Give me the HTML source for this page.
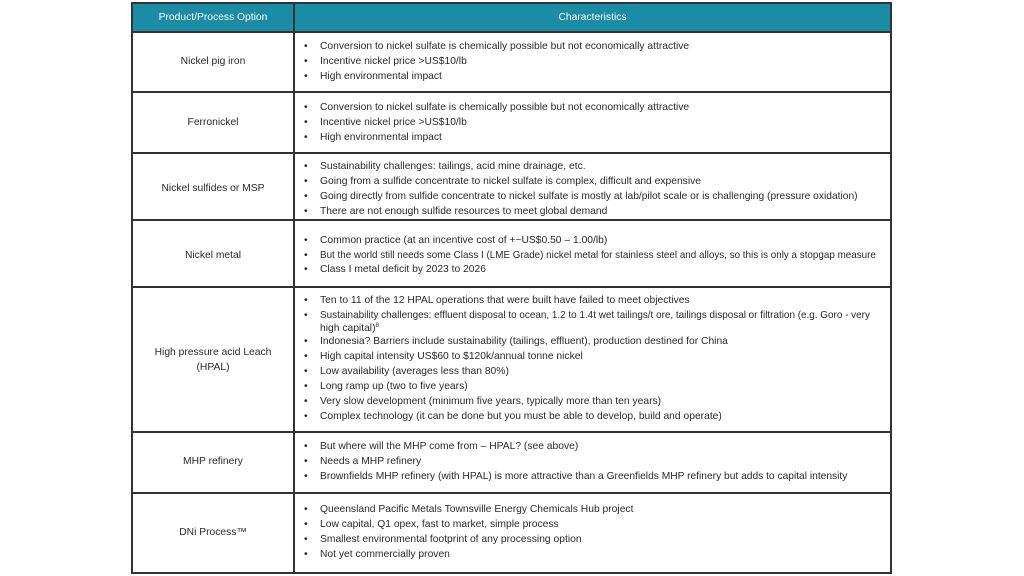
<!DOCTYPE html>
<html>
<head>
<meta charset="utf-8">
<style>
html,body{margin:0;padding:0;background:#fff;}
body{width:1024px;height:576px;position:relative;overflow:hidden;font-family:"Liberation Sans",Arial,sans-serif;font-size:10.3px;color:#2a2a2a;}
.h{position:absolute;height:2px;background:#333;left:131px;width:761px;}
.v{position:absolute;width:2px;background:#333;top:2px;height:572px;}
.t{position:absolute;line-height:15px;white-space:nowrap;}
.c{position:absolute;left:132px;width:162px;text-align:center;line-height:15px;white-space:nowrap;}
.b{position:absolute;left:304px;line-height:15px;white-space:nowrap;}
.b span{display:inline-block;width:16px;}
.s{display:inline-block;transform-origin:0 50%;font-style:normal;}
sup{font-size:6px;vertical-align:top;position:relative;top:-2px;}
</style>
</head>
<body>
<div style="position:absolute;left:132px;top:3px;width:759px;height:29px;background:#1b8ca6;"></div>

<div class="h" style="top:2px"></div>
<div class="h" style="top:31px"></div>
<div class="h" style="top:91px"></div>
<div class="h" style="top:152px"></div>
<div class="h" style="top:219px"></div>
<div class="h" style="top:286px"></div>
<div class="h" style="top:431px"></div>
<div class="h" style="top:492px"></div>
<div class="h" style="top:572px"></div>
<div class="v" style="left:131px"></div>
<div class="v" style="left:293px"></div>
<div class="v" style="left:890px"></div>

<div class="c" style="top:9.5px;color:#fff;">Product/Process Option</div>
<div class="t" style="top:9.5px;left:294px;width:597px;text-align:center;color:#fff;">Characteristics</div>

<div class="c" style="top:53.5px">Nickel pig iron</div>
<div class="b" style="top:38.5px"><span>•</span>Conversion to nickel sulfate is chemically possible but not economically attractive</div>
<div class="b" style="top:53.5px"><span>•</span>Incentive nickel price &gt;US$10/lb</div>
<div class="b" style="top:68.5px"><span>•</span>High environmental impact</div>

<div class="c" style="top:114.5px">Ferronickel</div>
<div class="b" style="top:99.5px"><span>•</span>Conversion to nickel sulfate is chemically possible but not economically attractive</div>
<div class="b" style="top:114.5px"><span>•</span>Incentive nickel price &gt;US$10/lb</div>
<div class="b" style="top:129.5px"><span>•</span>High environmental impact</div>

<div class="c" style="top:180.5px">Nickel sulfides or MSP</div>
<div class="b" style="top:158.8px"><span>•</span>Sustainability challenges: tailings, acid mine drainage, etc.</div>
<div class="b" style="top:173.8px"><span>•</span>Going from a sulfide concentrate to nickel sulfate is complex, difficult and expensive</div>
<div class="b" style="top:188.8px"><span>•</span><i class="s" style="transform:scaleX(0.995)">Going directly from sulfide concentrate to nickel sulfate is mostly at lab/pilot scale or is challenging (pressure oxidation)</i></div>
<div class="b" style="top:203.5px"><span>•</span>There are not enough sulfide resources to meet global demand</div>

<div class="c" style="top:247.5px">Nickel metal</div>
<div class="b" style="top:232.5px"><span>•</span>Common practice (at an incentive cost of +~US$0.50 – 1.00/lb)</div>
<div class="b" style="top:247.5px"><span>•</span><i class="s" style="transform:scaleX(0.957)">But the world still needs some Class I (LME Grade) nickel metal for stainless steel and alloys, so this is only a stopgap measure</i></div>
<div class="b" style="top:262px"><span>•</span>Class I metal deficit by 2023 to 2026</div>

<div class="c" style="top:345px">High pressure acid Leach</div>
<div class="c" style="top:359.5px">(HPAL)</div>
<div class="b" style="top:292.5px"><span>•</span>Ten to 11 of the 12 HPAL operations that were built have failed to meet objectives</div>
<div class="b" style="top:307.5px"><span>•</span><i class="s" style="transform:scaleX(0.963)">Sustainability challenges: effluent disposal to ocean, 1.2 to 1.4t wet tailings/t ore, tailings disposal or filtration (e.g. Goro - very</i></div>
<div class="t" style="top:320.5px;left:320px">high capital)<sup>8</sup></div>
<div class="b" style="top:333.5px"><span>•</span>Indonesia? Barriers include sustainability (tailings, effluent), production destined for China</div>
<div class="b" style="top:348.5px"><span>•</span>High capital intensity US$60 to $120k/annual tonne nickel</div>
<div class="b" style="top:363.5px"><span>•</span>Low availability (averages less than 80%)</div>
<div class="b" style="top:378.5px"><span>•</span>Long ramp up (two to five years)</div>
<div class="b" style="top:393.5px"><span>•</span>Very slow development (minimum five years, typically more than ten years)</div>
<div class="b" style="top:408.5px"><span>•</span>Complex technology (it can be done but you must be able to develop, build and operate)</div>

<div class="c" style="top:453.5px">MHP refinery</div>
<div class="b" style="top:438.5px"><span>•</span>But where will the MHP come from – HPAL? (see above)</div>
<div class="b" style="top:453.5px"><span>•</span>Needs a MHP refinery</div>
<div class="b" style="top:468.5px"><span>•</span><i class="s" style="transform:scaleX(0.993)">Brownfields MHP refinery (with HPAL) is more attractive than a Greenfields MHP refinery but adds to capital intensity</i></div>

<div class="c" style="top:524.5px">DNi Process™</div>
<div class="b" style="top:501.5px"><span>•</span>Queensland Pacific Metals Townsville Energy Chemicals Hub project</div>
<div class="b" style="top:516.5px"><span>•</span>Low capital, Q1 opex, fast to market, simple process</div>
<div class="b" style="top:531.5px"><span>•</span>Smallest environmental footprint of any processing option</div>
<div class="b" style="top:546.5px"><span>•</span>Not yet commercially proven</div>
</body>
</html>
